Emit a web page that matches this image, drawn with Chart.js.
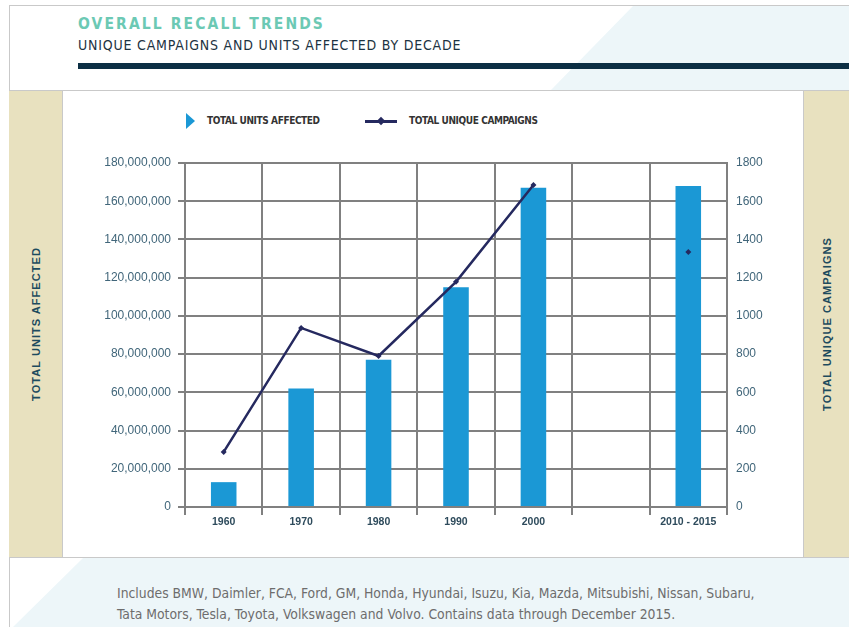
<!DOCTYPE html>
<html>
<head>
<meta charset="utf-8">
<script src="https://cdn.jsdelivr.net/npm/chart.js@4/dist/chart.umd.min.js"></script>
<style>
    body {
        margin: 0;
        width: 849px;
        height: 627px;
        position: relative;
        overflow: hidden;
        background: #fff;
        font-family: "Liberation Sans", Arial, sans-serif;
    }
    .frame {
        position: absolute;
        left: 9px;
        top: 5px;
        right: 0;
        bottom: 0;
        border-left: 1px solid #c9c9c9;
        border-top: 1px solid #c9c9c9;
    }
    .header-band {
        position: absolute;
        left: 0;
        top: 6px;
        width: 849px;
        height: 85px;
        background: #edf6f9;
        clip-path: polygon(633px 0, 849px 0, 849px 85px, 550px 85px);
    }
    .title {
        position: absolute;
        left: 78px;
        top: 15px;
        font-family: "DejaVu Sans Condensed", sans-serif;
        font-weight: bold;
        font-size: 15.5px;
        letter-spacing: 2.1px;
        color: #6cc9b4;
    }
    .subtitle {
        position: absolute;
        left: 78px;
        top: 37px;
        font-family: "DejaVu Sans Condensed", sans-serif;
        font-size: 14px;
        letter-spacing: 0.8px;
        color: #1d3342;
    }
    .rule {
        position: absolute;
        left: 78px;
        top: 63px;
        width: 771px;
        height: 6px;
        background: #0c2f44;
    }
    .side {
        position: absolute;
        top: 90px;
        height: 466px;
        background: #e8e1bf;
        border-top: 1px solid #c9c9c9;
        border-bottom: 1px solid #c9c9c9;
    }
    .side.left { left: 9px; width: 53px; border-right: 1px solid #c9c9c9; }
    .side.right { left: 803px; width: 46px; border-left: 1px solid #c9c9c9; }
    .side span {
        position: absolute;
        left: 50%;
        top: 50%;
        transform: translate(-50%, -50%) rotate(-90deg);
        white-space: nowrap;
        font-weight: bold;
        font-size: 11px;
        letter-spacing: 1.05px;
        color: #1d4b5e;
    }
    .middle {
        position: absolute;
        left: 63px;
        top: 90px;
        width: 740px;
        height: 466px;
        border-top: 1px solid #c9c9c9;
        border-bottom: 1px solid #c9c9c9;
        background: #fff;
    }
    .footer {
        position: absolute;
        left: 10px;
        top: 558px;
        width: 839px;
        height: 69px;
        background: #edf6f9;
    }
    .footer .cut {
        position: absolute;
        left: 0;
        top: 0;
        width: 80px;
        height: 69px;
        background: #fff;
        clip-path: polygon(0 0, 73px 0, 3px 69px, 0 69px);
    }
    .footer p {
        position: absolute;
        left: 107px;
        top: 25px;
        margin: 0;
        font-family: "DejaVu Sans Condensed", sans-serif;
        font-size: 13.8px;
        line-height: 21px;
        color: #6d6d6d;
    }
    .legend {
        position: absolute;
        left: 0;
        top: 0;
        width: 849px;
        height: 140px;
        font-family: "DejaVu Sans Condensed", sans-serif;
        font-weight: bold;
        font-size: 10px;
        letter-spacing: -0.4px;
        line-height: 16px;
        color: #333;
    }
    .legend .tri {
        position: absolute;
        left: 186px;
        top: 113px;
        width: 0;
        height: 0;
        border-top: 8px solid transparent;
        border-bottom: 8px solid transparent;
        border-left: 9px solid #1b98d5;
    }
    .legend-line {
        position: absolute;
        left: 365px;
        top: 120px;
        width: 32px;
        height: 3px;
        background: #25295f;
    }
    .legend-dot {
        position: absolute;
        left: 378px;
        top: 118px;
        width: 6px;
        height: 6px;
        background: #25295f;
        transform: rotate(45deg);
    }
    #chartBox {
        position: absolute;
        left: 63px;
        top: 91px;
        width: 740px;
        height: 466px;
    }
</style>
</head>
<body>
<div class="header-band"></div>
<div class="frame"></div>
<div class="title">OVERALL RECALL TRENDS</div>
<div class="subtitle">UNIQUE CAMPAIGNS AND UNITS AFFECTED BY DECADE</div>
<div class="rule"></div>

<div class="side left"><span>TOTAL UNITS AFFECTED</span></div>
<div class="middle"></div>
<div class="side right"><span>TOTAL UNIQUE CAMPAIGNS</span></div>

<div class="legend">
    <div class="tri"></div>
    <div style="position:absolute;left:207px;top:113px;">TOTAL UNITS AFFECTED</div>
    <div style="position:absolute;left:409px;top:113px;">TOTAL UNIQUE CAMPAIGNS</div>
</div>
<div class="legend-line"></div>
<div class="legend-dot"></div>

<div id="chartBox"><canvas id="recallChart"></canvas></div>

<div class="footer">
    <div class="cut"></div>
    <p>Includes BMW, Daimler, FCA, Ford, GM, Honda, Hyundai, Isuzu, Kia, Mazda, Mitsubishi, Nissan, Subaru,<br>Tata Motors, Tesla, Toyota, Volkswagen and Volvo. Contains data through December 2015.</p>
</div>

<script>
// Decades on the x axis (one empty slot before the last period)
const decades = ['1960', '1970', '1980', '1990', '2000', '', '2010 - 2015'];

// Vehicles affected per decade
const unitsAffected = [13000000, 62000000, 77000000, 115000000, 167000000, null, 168000000];

// Unique recall campaigns per decade
const uniqueCampaigns = [288, 937, 790, 1178, 1685, null, 1334];

const gridGray = '#808080';
const tickFont = { family: '"Liberation Sans", Arial, sans-serif', size: 12 };

const ctx = document.getElementById('recallChart').getContext('2d');
new Chart(ctx, {
    type: 'bar',
    data: {
        labels: decades,
        datasets: [
            {
                type: 'line',
                label: 'TOTAL UNIQUE CAMPAIGNS',
                data: uniqueCampaigns,
                yAxisID: 'y1',
                borderColor: '#25295f',
                backgroundColor: '#25295f',
                borderWidth: 2.5,
                pointStyle: 'rectRot',
                pointRadius: 3,
                pointBorderWidth: 0,
                spanGaps: false,
                tension: 0,
                order: 0
            },
            {
                label: 'TOTAL UNITS AFFECTED',
                data: unitsAffected,
                yAxisID: 'y',
                backgroundColor: '#1b98d5',
                categoryPercentage: 1,
                barPercentage: 0.33,
                order: 1
            }
        ]
    },
    options: {
        responsive: true,
        maintainAspectRatio: false,
        animation: false,
        layout: {
            padding: { top: 72, left: 0, right: 0, bottom: 0 }
        },
        plugins: {
            legend: { display: false },
            tooltip: { enabled: false }
        },
        scales: {
            x: {
                offset: true,
                grid: {
                    offset: true,
                    color: gridGray,
                    lineWidth: 2,
                    tickLength: 8
                },
                border: { color: gridGray, width: 2 },
                ticks: {
                    color: '#2e4b5c',
                    font: { family: '"Liberation Sans", Arial, sans-serif', size: 10.5, weight: 'bold' },
                    padding: 1,
                    maxRotation: 0
                },
                afterFit: scale => { scale.height = 50; }
            },
            y: {
                position: 'left',
                min: 0,
                max: 180000000,
                ticks: {
                    stepSize: 20000000,
                    color: '#41667a',
                    font: tickFont,
                    padding: 7,
                    callback: v => v.toLocaleString('en-US')
                },
                grid: {
                    color: gridGray,
                    lineWidth: 2,
                    tickLength: 7
                },
                border: { color: gridGray, width: 2 },
                afterFit: scale => { scale.width = 122; }
            },
            y1: {
                position: 'right',
                min: 0,
                max: 1800,
                ticks: {
                    stepSize: 200,
                    color: '#41667a',
                    font: tickFont,
                    padding: 9,
                    callback: v => String(v)
                },
                grid: { display: false, drawTicks: false },
                border: { display: true, color: gridGray, width: 2 },
                afterFit: scale => { scale.width = 76; }
            }
        }
    }
});
</script>
</body>
</html>
